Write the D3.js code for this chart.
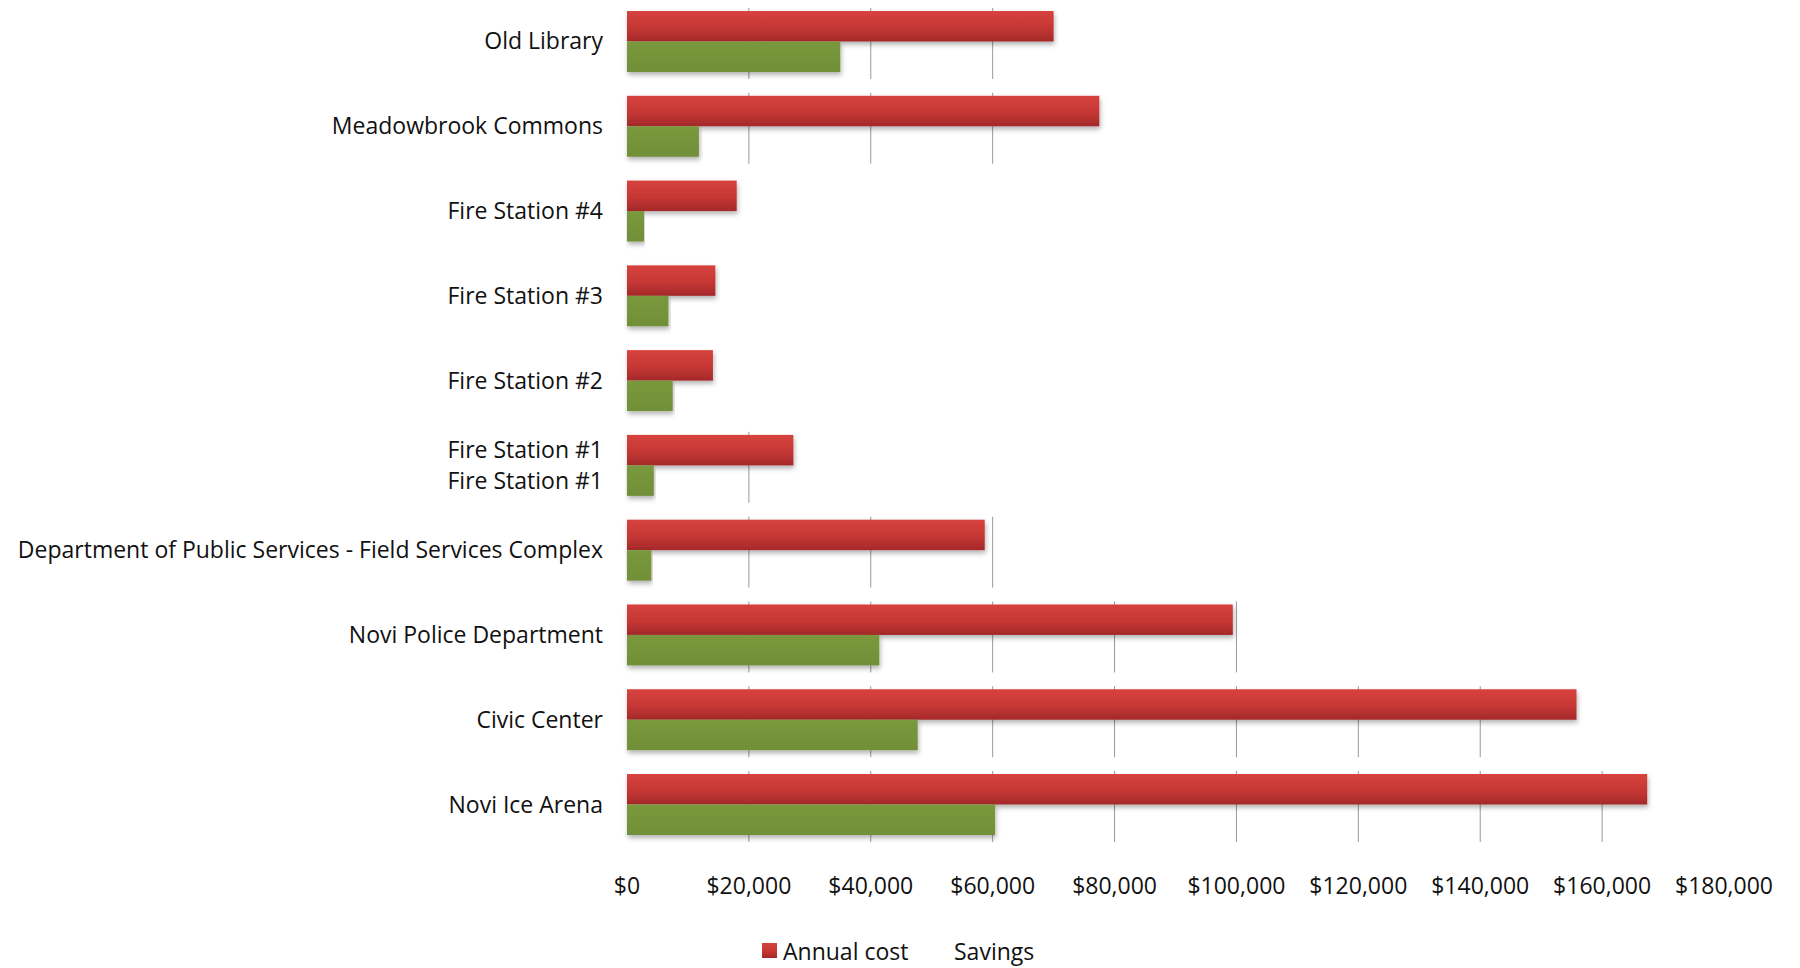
<!DOCTYPE html>
<html>
<head>
<meta charset="utf-8">
<script src="https://cdn.jsdelivr.net/npm/d3@7"></script>
<style>
  body { margin: 0; background: #fff; }
  text { font-family: "Open Sans", sans-serif; fill: #111; }
</style>
</head>
<body>
<div id="chart"></div>
<script>
const categories = [
  "Old Library",
  "Meadowbrook Commons",
  "Fire Station #4",
  "Fire Station #3",
  "Fire Station #2",
  "Fire Station #1",
  "Department of Public Services - Field Services Complex",
  "Novi Police Department",
  "Civic Center",
  "Novi Ice Arena"
];
const annualCost = [70000, 77500, 18000, 14500, 14100, 27300, 58700, 99400, 155800, 167400];
const savings = [35000, 11800, 2800, 6800, 7500, 4400, 4000, 41400, 47700, 60400];
const tickValues = [0, 20000, 40000, 60000, 80000, 100000, 120000, 140000, 160000, 180000];
const seriesNames = ["Annual cost", "Savings"];

const width = 1800, height = 968;

const svg = d3.select("#chart").append("svg")
  .attr("width", width)
  .attr("height", height);

const defs = svg.append("defs");
const redGrad = defs.append("linearGradient")
  .attr("id", "redGrad").attr("x1", 0).attr("y1", 0).attr("x2", 0).attr("y2", 1);
redGrad.append("stop").attr("offset", "0%").attr("stop-color", "#d7423e");
redGrad.append("stop").attr("offset", "55%").attr("stop-color", "#c53734");
redGrad.append("stop").attr("offset", "100%").attr("stop-color", "#a4292a");
const greenGrad = defs.append("linearGradient")
  .attr("id", "greenGrad").attr("x1", 0).attr("y1", 0).attr("x2", 0).attr("y2", 1);
greenGrad.append("stop").attr("offset", "0%").attr("stop-color", "#7a993d");
greenGrad.append("stop").attr("offset", "100%").attr("stop-color", "#718f38");

const shadow = defs.append("filter").attr("id", "shadow")
  .attr("x", "-5%").attr("y", "-30%").attr("width", "110%").attr("height", "180%");
shadow.append("feDropShadow")
  .attr("dx", 1).attr("dy", 3).attr("stdDeviation", 2.5)
  .attr("flood-color", "#000").attr("flood-opacity", 0.3);

const x = d3.scaleLinear().domain([0, 180000]).range([627, 1724]);
const y = d3.scaleBand().domain(categories).range([0, 846])
  .paddingInner(0.281).paddingOuter(0.13);
const bar = y.bandwidth() / 2;

const rows = categories.map((c, i) => ({ name: c, cost: annualCost[i], save: savings[i] }));

// short grid segments, only visible around the bars
const grid = svg.append("g");
rows.forEach(r => {
  const maxV = Math.max(r.cost, r.save);
  tickValues.filter(t => t > 0 && t <= maxV + 1500).forEach(t => {
    grid.append("line")
      .attr("x1", x(t)).attr("x2", x(t))
      .attr("y1", y(r.name) - 3)
      .attr("y2", y(r.name) + y.bandwidth() + 7)
      .attr("stroke", "#999")
      .attr("stroke-width", 1);
  });
});

// bars
const g = svg.append("g");
g.selectAll("rect.cost")
  .data(rows)
  .join("rect")
  .attr("class", "cost")
  .attr("x", x(0))
  .attr("y", d => y(d.name))
  .attr("width", d => x(d.cost) - x(0))
  .attr("height", bar)
  .attr("fill", "url(#redGrad)")
  .attr("filter", "url(#shadow)");

g.selectAll("rect.save")
  .data(rows)
  .join("rect")
  .attr("class", "save")
  .attr("x", x(0))
  .attr("y", d => y(d.name) + bar)
  .attr("width", d => x(d.save) - x(0))
  .attr("height", bar)
  .attr("fill", "url(#greenGrad)")
  .attr("filter", "url(#shadow)");

// category labels
const labels = svg.append("g");
rows.forEach(r => {
  const cy = y(r.name) + bar;
  const offs = r.name === "Fire Station #1" ? [-bar / 2, bar / 2] : [0];
  offs.forEach(off => {
    labels.append("text")
      .attr("x", 603).attr("y", cy + off - 1)
      .attr("text-anchor", "end").attr("dominant-baseline", "central")
      .style("font-size", "23px").text(r.name);
  });
});

// x axis labels
const fmt = d3.format("$,");
svg.append("g")
  .selectAll("text")
  .data(tickValues)
  .join("text")
  .attr("x", d => x(d))
  .attr("y", 885)
  .attr("text-anchor", "middle")
  .attr("dominant-baseline", "central")
  .style("font-size", "23px")
  .text(d => fmt(d));

// legend
const legend = svg.append("g").attr("transform", "translate(762,951)");
legend.append("rect")
  .attr("x", 0).attr("y", -8).attr("width", 15).attr("height", 15)
  .attr("fill", "url(#redGrad)");
legend.append("text")
  .attr("x", 21).attr("y", 0)
  .attr("dominant-baseline", "central")
  .style("font-size", "23px").text(seriesNames[0]);
legend.append("text")
  .attr("x", 192).attr("y", 0)
  .attr("dominant-baseline", "central")
  .style("font-size", "23px").text(seriesNames[1]);
</script>
</body>
</html>
